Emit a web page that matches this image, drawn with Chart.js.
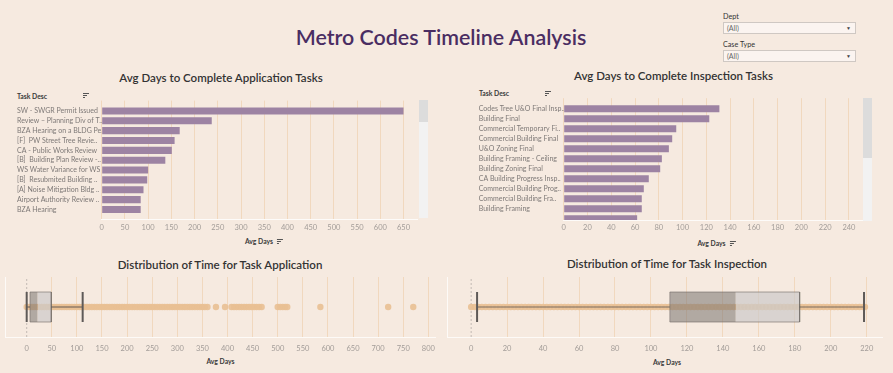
<!DOCTYPE html>
<html><head><meta charset="utf-8">
<script src="https://cdn.jsdelivr.net/npm/chart.js@4.4.1/dist/chart.umd.min.js"></script>
<style>
html,body{margin:0;padding:0;background:#F6EAE0;}
body{width:893px;height:373px;position:relative;overflow:hidden;font-family:Lato,"Noto Sans",sans-serif;}
.c{position:absolute;white-space:nowrap;transform:translate(-50%,-50%);}
.l{position:absolute;white-space:nowrap;transform:translateY(-50%);}
canvas{position:absolute;}
.main{font-size:21.4px;font-weight:600;color:#4a2d62;}
.sub{font-size:11.5px;font-weight:600;color:#333;}
.hdr{font-size:6.8px;font-weight:700;color:#3a3a3a;display:flex;align-items:center;}
.sort{display:inline-block;width:6px;margin-left:4px;}
.sort i{display:block;height:1px;background:#555;margin-bottom:1px;}
.track{position:absolute;background:#F2F2F2;}
.thumb{position:absolute;background:#DCDCDC;}
.dd{position:absolute;left:723px;width:131px;height:10px;border:1px solid #cfc8c3;background:#FBF4F0;font-size:7px;color:#666;line-height:10px;}
.dd span{position:absolute;left:3px;}
.dd b{position:absolute;right:4px;top:0;font-size:5px;color:#444;font-weight:normal;}
.ddl{font-size:7.2px;color:#333;}
.pane{position:absolute;border-left:1px solid rgba(255,255,255,0.75);border-bottom:1px solid rgba(255,255,255,0.75);}
</style></head>
<body>
<div class="c main" style="left:441px;top:37px;">Metro Codes Timeline Analysis</div>

<div class="l ddl" style="left:723px;top:16px;">Dept</div>
<div class="dd" style="top:22px;"><span>(All)</span><b>▼</b></div>
<div class="l ddl" style="left:723px;top:44px;">Case Type</div>
<div class="dd" style="top:50px;"><span>(All)</span><b>▼</b></div>

<div class="c sub" style="left:221px;top:77px;">Avg Days to Complete Application Tasks</div>
<div class="c sub" style="left:673.5px;top:75px;">Avg Days to Complete Inspection Tasks</div>
<div class="c sub" style="left:220px;top:264px;">Distribution of Time for Task Application</div>
<div class="c sub" style="left:667px;top:263px;">Distribution of Time for Task Inspection</div>

<div class="l hdr" style="left:17px;top:95.5px;">Task Desc<span class="sort" style="margin-left:36px"><i style="width:6px"></i><i style="width:4px"></i><i style="width:2px;margin:0"></i></span></div>
<div class="l hdr" style="left:479px;top:93.3px;">Task Desc<span class="sort" style="margin-left:36px"><i style="width:6px"></i><i style="width:4px"></i><i style="width:2px;margin:0"></i></span></div>

<div class="c hdr" style="left:264px;top:241px;">Avg Days<span class="sort"><i style="width:6px"></i><i style="width:4px"></i><i style="width:2px;margin:0"></i></span></div>
<div class="c hdr" style="left:716.5px;top:243.3px;">Avg Days<span class="sort"><i style="width:6px"></i><i style="width:4px"></i><i style="width:2px;margin:0"></i></span></div>
<div class="c hdr" style="left:220.5px;top:361px;">Avg Days</div>
<div class="c hdr" style="left:667px;top:361.5px;">Avg Days</div>

<div class="track" style="left:419px;top:100px;width:9px;height:118px;"></div>
<div class="thumb" style="left:419px;top:100px;width:9px;height:22px;"></div>
<div class="track" style="left:863px;top:98px;width:9px;height:123px;"></div>
<div class="thumb" style="left:863px;top:98px;width:9px;height:60px;"></div>

<div class="pane" style="left:5px;top:277px;width:430px;height:60px;"></div>
<div class="pane" style="left:447px;top:277px;width:435px;height:60px;"></div>

<canvas id="appBar" width="420" height="140" style="left:12px;top:95px;"></canvas>
<canvas id="inspBar" width="400" height="142" style="left:470px;top:93px;"></canvas>
<canvas id="appBox" width="445" height="85" style="left:0px;top:272px;"></canvas>
<canvas id="inspBox" width="448" height="85" style="left:445px;top:272px;"></canvas>

<script>
// ---- Data ----
const appTasks = [
  "SW - SWGR Permit Issued",
  "Review \u2013 Planning Div of T..",
  "BZA Hearing on a BLDG Pe..",
  "[F]  PW Street Tree Revie..",
  "CA - Public Works Review",
  "[B]  Building Plan Review -..",
  "WS Water Variance for WS",
  "[B]  Resubmited Building ..",
  "[A] Noise Mitigation Bldg ..",
  "Airport Authority Review ..",
  "BZA Hearing"
];
const appAvgDays = [650, 237, 168, 157, 151, 137, 100, 98, 90, 84, 84];

const inspTasks = [
  "Codes Tree U&O Final Insp..",
  "Building Final",
  "Commercial Temporary Fi..",
  "Commercial Building Final",
  "U&O Zoning Final",
  "Building Framing - Ceiling",
  "Building Zoning Final",
  "CA Building Progress Insp..",
  "Commercial Building Prog..",
  "Commercial Building Fra..",
  "Building Framing",
  ""
];
const inspAvgDays = [131, 122.5, 94.7, 91.3, 88.5, 82.6, 81.2, 71.6, 67.4, 65.7, 65.7, 61.8];

// box stats: [lower whisker, Q1, median, Q3, upper whisker]
const appBoxStats = [0, 6.6, 22, 49, 111.5];
const inspBoxStats = [3.3, 110.5, 147.2, 182.7, 218.5];

// individual task durations (Avg Days) shown as dots
const appPoints = [0,5,10,15,20,25,30,35,40,45,50,55,60,65,70,75,80,85,90,95,100,105,110,115,120,125,130,135,140,145,150,155,160,165,170,175,180,185,190,195,200,205,210,215,220,225,230,235,240,245,250,255,260,265,270,275,280,285,290,295,300,305,310,315,320,325,330,335,340,345,350,355,360,377,395,408,413,418,423,428,433,438,443,448,453,458,463,468,500,505,510,515,519,585,720,770];
const inspPoints = [0,2,4,6,8,10,12,14,16,18,20,22,24,26,28,30,32,34,36,38,40,42,44,46,48,50,52,54,56,58,60,62,64,66,68,70,72,74,76,78,80,82,84,86,88,90,92,94,96,98,100,102,104,106,108,110,112,114,116,118,120,122,124,126,128,130,132,134,136,138,140,142,144,146,148,150,152,154,156,158,160,162,164,166,168,170,172,174,176,178,180,182,184,186,188,190,192,194,196,198,200,202,204,206,208,210,212,214,216,218,219];

// ---- Styling ----
Chart.defaults.font.family = 'Lato, "Noto Sans", sans-serif';
const GRID = '#F1D8BE';
const BAR = '#9D83A3';

function barChart(id, labels, values, cfg) {
  return new Chart(document.getElementById(id), {
    type: 'bar',
    data: { datasets: [{
      data: values.map((v, i) => ({ x: v, y: i })),
      backgroundColor: BAR, barPercentage: 0.72, categoryPercentage: 1
    }]},
    options: {
      indexAxis: 'y', responsive: false, animation: false,
      layout: { padding: cfg.pad },
      plugins: { legend: { display: false }, tooltip: { enabled: false } },
      scales: {
        x: {
          type: 'linear', min: 0, max: cfg.max,
          ticks: { stepSize: cfg.step, includeBounds: false, color: '#A29C98', font: { size: 7.5 }, padding: 3, maxRotation: 0 },
          grid: { color: GRID, drawTicks: false },
          border: { display: true, color: 'rgba(255,255,255,0.8)' },
          afterFit: s => { s.height = cfg.xh; }
        },
        y: {
          type: 'linear', reverse: true, min: -0.5, max: cfg.ymax,
          afterBuildTicks: s => { s.ticks = labels.map((_, i) => ({ value: i })).filter(t => t.value <= cfg.ymax); },
          ticks: { callback: v => labels[v], crossAlign: 'far', color: '#7E7977', font: { size: 7 }, padding: 0, autoSkip: false },
          grid: { display: false, drawTicks: false },
          border: { display: false },
          afterFit: s => { s.width = cfg.yw; }
        }
      }
    }
  });
}

function boxChart(id, pts, st, cfg) {
  const [lo, q1, med, q3, hi] = st;
  const Y0 = 0.25, Y1 = 0.75, YM = 0.5;
  const ln = (data, color, width, order, extra) => Object.assign({
    type: 'line', data, borderColor: color, borderWidth: width, pointRadius: 0, fill: false, order
  }, extra || {});
  return new Chart(document.getElementById(id), {
    type: 'scatter',
    data: { datasets: [
      ln([{x: lo, y: Y0}, {x: lo, y: Y1}], '#5E5A58', 2, 1),
      ln([{x: hi, y: Y0}, {x: hi, y: Y1}], '#5E5A58', 2, 1),
      ln([{x: lo, y: YM}, {x: q1, y: YM}], 'rgba(85,80,78,0.75)', 1.2, 2),
      ln([{x: q3, y: YM}, {x: hi, y: YM}], 'rgba(85,80,78,0.75)', 1.2, 2),
      ln([{x: q1, y: Y0}, {x: q1, y: Y1}, {x: q3, y: Y1}, {x: q3, y: Y0}, {x: q1, y: Y0}], 'rgba(110,105,102,0.6)', 1, 3),
      ln([{x: q1, y: Y1}, {x: med, y: Y1}], 'rgba(0,0,0,0)', 0, 4, { fill: { value: Y0 }, backgroundColor: 'rgba(120,115,112,0.55)' }),
      ln([{x: med, y: Y1}, {x: q3, y: Y1}], 'rgba(0,0,0,0)', 0, 4, { fill: { value: Y0 }, backgroundColor: 'rgba(205,203,201,0.72)' }),
      { type: 'scatter', data: pts.map(v => ({ x: v, y: YM })), pointRadius: 3.2, pointHoverRadius: 3.2,
        backgroundColor: 'rgba(233,192,148,0.9)', borderWidth: 0, order: 5 },
      ln([{x: 0, y: 0}, {x: 0, y: 1}], 'rgba(190,180,175,0.9)', 1, 6, { borderDash: [2, 2] })
    ]},
    options: {
      responsive: false, animation: false,
      layout: { padding: cfg.pad },
      plugins: { legend: { display: false }, tooltip: { enabled: false } },
      scales: {
        x: {
          type: 'linear', min: cfg.min, max: cfg.max,
          ticks: { stepSize: cfg.step, includeBounds: false, color: '#A29C98', font: { size: 7.5 }, padding: 7, maxRotation: 0 },
          grid: { color: c => (c.tick && c.tick.value === 0) ? 'rgba(0,0,0,0)' : GRID, drawTicks: false },
          border: { display: false },
          afterFit: s => { s.height = cfg.xh; }
        },
        y: { type: 'linear', min: 0, max: 1, display: false }
      }
    }
  });
}

barChart('appBar', appTasks, appAvgDays, { pad: { left: 5, top: 5.6, right: 15, bottom: 0 }, yw: 84.7, xh: 15.2, max: 679, step: 50, ymax: 10.5 });
barChart('inspBar', inspTasks, inspAvgDays, { pad: { left: 8.7, top: 5.2, right: 8, bottom: 0 }, yw: 85, xh: 15, max: 251, step: 20, ymax: 10.57 });
boxChart('appBox', appPoints, appBoxStats, { pad: { left: 5, top: 5, right: 10, bottom: 0 }, xh: 20, min: -43.2, max: 813.3, step: 50 });
boxChart('inspBox', inspPoints, inspBoxStats, { pad: { left: 2, top: 5, right: 11, bottom: 0 }, xh: 20, min: -12.76, max: 228.5, step: 20 });
</script>
</body></html>
